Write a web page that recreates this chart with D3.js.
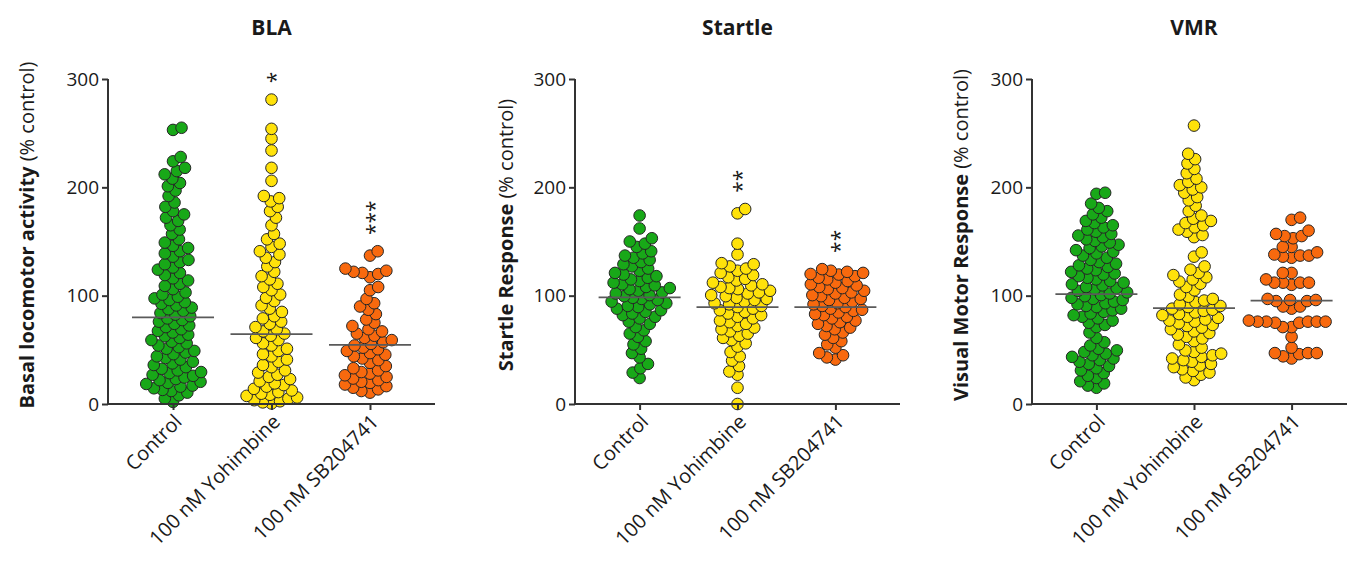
<!DOCTYPE html>
<html><head><meta charset="utf-8">
<script src="https://cdn.jsdelivr.net/npm/d3@7"></script>
<style>body{margin:0;background:#fff} text{font-family:'Open Sans',sans-serif;fill:#1a1a1a}</style>
</head><body><svg id="c" width="1347" height="562"></svg>
<script>
const categories = ["Control", "100 nM Yohimbine", "100 nM SB204741"];
const yTicks = [0, 100, 200, 300];
const panelTitles = ["BLA", "Startle", "VMR"];
const yLabelBold = ["Basal locomotor activity", "Startle Response", "Visual Motor Response"];
const yLabelNormal = " (% control)";

const blaControl = [2,5,8, 10.5,12,13,14.5,16,17,18.5,19.5, 20.5,22,23,24.5,26,27,28.5,29.5,
  31,32.5,34,36,37.5,39, 41,42.5,44,46,47.5,49, 51,52.5,54,56,57.5,59, 61,62.5,64,66,67.5,69,
  71,72.5,74,76,77.5,79, 81,82.5,84,86,87.5,89, 91,92.5,94,96,97.5,99,
  101,103,106,109, 111,114,116,119, 121,124,126,129, 131,133,136,139, 141,144,146,149,
  152,157, 161,165,169, 172,175,178, 182,186, 192,197, 201,204,208, 212,215,218, 224,228, 253,255];
const blaYohimbine = [0.5,1.5,2.5,3.5,5,6,7.5,8.5,9.5, 11,12.5,14,16,17.5,19, 21,23,25,27,29,
  31,34,36,39, 41,44,46,49, 51,54,56,59, 61,63,65,67,69, 71,74,76,79, 81,85,88, 91,95,98,
  101,105,108, 111,115,118, 122,127, 131,135,138, 141,145,148, 152,157,
  165,172,178,182,187,190,192, 206,218,234,245,254,281];
const blaSB = [10.5,12,13.5,15,16.5,18,19.5, 20.5,22,23.5,25,26.5,28,29.5, 31,33,35,38,
  40.5,42,44,45.5,47,49, 50.5,52,54,55.5,57,59, 61,63,65,67,69, 72,75,78,
  83,87, 90,93,97, 105,108, 117, 120,121,122,123,125, 137,141];

const startleControl = [24,29,33,37,43,47,51,55,58, 62,65,68, 71,74,76,79,
  80.5,82,83.5,85,86.5,88,89.5, 90.5,92,93,94.5,96,97,98,99.5,
  100.5,102,103,104.5,106,107,108,109.5, 110.5,112,113.5,115,116.5,118,119.5,
  121,123,125,127,129, 131,133,135,137,139, 141,145,148, 150,153,162,174];
const startleYohimbine = [0,15,27,30,35,40,44,48, 53,56,59, 61,63,65,67,69,
  70.5,72,74,75.5,77,79, 80.5,82,83.5,85,86.5,88,89.5, 90.5,92,93,94.5,96,97,98,99.5,
  100.5,102,103,104.5,106,107,108,109.5, 110.5,112,114,115.5,117,119,
  121,123,125,127,129, 130,138,148,176,180];
const startleSB = [41,43,45,47, 52,55,58, 61,64,66,69, 70.5,72,74,75.5,77,79,
  80.5,82,83,84.5,86,87,88,89.5, 90.5,92,93,94.5,96,97,98,99.5,
  100.5,102,103,104.5,106,107,108,109.5, 110.5,112,113.5,115,116.5,118,119.5,
  120,121,122,123,124.5];

const vmrControl = [15,17,19, 21,24,26,28.5, 31,33,35,37,39, 40.5,42,43.5,45,46.5,48,49.5,
  51,54,57, 61,66, 71,73,75,77,79, 80.5,82,83.5,85,86.5,88,89.5, 90.5,92,93,94.5,96,97,98,99.5,
  100.5,102,103,104.5,106,107,108,109.5, 110.5,112,113.5,115,116.5,118,119.5,
  120.5,122,123.5,125,126.5,128,129.5, 131,133,135,137,139, 140.5,142,144,145.5,147,149,
  150.5,152,154,155.5,157,159, 161,163,165,167,169, 172,175,178, 181,185,194,195];
const vmrYohimbine = [22,24.5,27,29, 30.5,32,34,35.5,37,39, 40.5,42,43.5,45,46.5,48,49.5,
  52,55,58, 60.5,62,64,65.5,67,69, 70.5,72,73,74.5,76,77,78,79.5, 80.5,82,83,84.5,86,87,88,89.5,
  90.5,92,94,95.5,97,99, 101,105,108, 111,113,115,117,119, 121,124,127, 136,140,
  154,156,159, 161,163,165,167,169, 171,174,178, 183,188, 191,195,198,
  200,202,205,208, 213,217, 222,226, 231, 257];
const vmrSB = [42,44,46,47,47,47,52, 62, 71,71,75,75,76,76,76,76,76,77, 88,90,90,95,95,96,96,97,
  110,112,112,112,112,115,121,121, 135,136,137,137,138,140, 145,145, 153,155,155,157,160, 170,172];

const blaMeans = [80, 64.5, 54.5];
const startleMeans = [98.5, 89.5, 89.5];
const vmrMeans = [101.5, 88.5, 95.5];
const blaStars = ["", "*", "***"];
const startleStars = ["", "**", "**"];
const vmrStars = ["", "", ""];

const panelsData = [
  {title: panelTitles[0], label: yLabelBold[0], groups: [blaControl, blaYohimbine, blaSB], means: blaMeans, stars: blaStars},
  {title: panelTitles[1], label: yLabelBold[1], groups: [startleControl, startleYohimbine, startleSB], means: startleMeans, stars: startleStars},
  {title: panelTitles[2], label: yLabelBold[2], groups: [vmrControl, vmrYohimbine, vmrSB], means: vmrMeans, stars: vmrStars}
];
const layout = [
  {left: 108, right: 435, labelX: 27},
  {left: 575, right: 900, labelX: 506},
  {left: 1032, right: 1356, labelX: 961}
];
const fills = ["#18a818", "#ffe20a", "#f8690e"];

const svg = d3.select("#c");
svg.append("rect").attr("width", 1347).attr("height", 562).attr("fill", "#fff");

const y = d3.scaleLinear().domain([0, 300]).range([404, 79]);
const R = 5.8, D = 8.8;

function swarm(values) {
  const pts = values.map(v => ({v, y: y(v)})).sort((a, b) => a.v - b.v);
  const placed = [];
  pts.forEach((p, i) => {
    const near = placed.filter(q => Math.abs(q.y - p.y) < D);
    const cand = [0];
    near.forEach(q => {
      const dx = Math.sqrt(D * D - (q.y - p.y) ** 2);
      cand.push(q.x + dx, q.x - dx);
    });
    const sgn = i % 2 ? 1 : -1;
    cand.sort((a, b) => Math.abs(a) - Math.abs(b) || sgn * (a - b));
    for (const c of cand) {
      if (near.every(q => (q.x - c) ** 2 + (q.y - p.y) ** 2 >= D * D - 1e-6)) { p.x = c; break; }
    }
    placed.push(p);
  });
  return placed;
}

panelsData.forEach((pd, pi) => {
  const L = layout[pi];
  const x = d3.scalePoint().domain(categories).range([L.left, L.right]).padding(0.66);
  const g = svg.append("g");

  pd.groups.forEach((vals, gi) => {
    const cx = x(categories[gi]);
    g.append("g").selectAll("circle").data(swarm(vals)).join("circle")
      .attr("cx", d => cx + d.x).attr("cy", d => d.y).attr("r", R)
      .attr("fill", fills[gi]).attr("stroke", "#262626").attr("stroke-width", 1);
  });
  pd.means.forEach((m, gi) => {
    const cx = x(categories[gi]);
    g.append("line").attr("x1", cx - 41).attr("x2", cx + 41)
      .attr("y1", y(m)).attr("y2", y(m)).attr("stroke", "#5a5a5a").attr("stroke-width", 1.7);
  });
  pd.stars.forEach((s, gi) => {
    if (!s.length) return;
    const cx = x(categories[gi]);
    const lowest = y(d3.max(pd.groups[gi])) - 22;
    const mid = lowest - (s.length - 1) * 11.5 / 2;
    g.append("text").attr("transform", `translate(${cx},${mid}) rotate(-90)`)
      .attr("text-anchor", "middle").attr("dy", "0.57em").attr("font-size", 21).text(s);
  });

  const ya = g.append("g").attr("transform", `translate(${L.left},0)`)
    .call(d3.axisLeft(y).tickValues(yTicks).tickSize(6).tickPadding(3).tickFormat(d3.format("d")));
  ya.select(".domain").attr("stroke", "#333").attr("stroke-width", 2).attr("d", `M0,${y(300)}V${y(0)}`);
  ya.selectAll(".tick line").attr("stroke", "#333").attr("stroke-width", 2);
  ya.selectAll(".tick text").attr("font-size", 19).attr("font-family", "'Open Sans',sans-serif").attr("fill", "#1a1a1a");

  const xa = g.append("g").attr("transform", `translate(0,${y(0)})`)
    .call(d3.axisBottom(x).tickSize(6).tickFormat(""));
  xa.select(".domain").attr("stroke", "#333").attr("stroke-width", 2).attr("d", `M${L.left},0H${Math.min(L.right, 1347)}`);
  xa.selectAll(".tick line").attr("stroke", "#333").attr("stroke-width", 2);
  categories.forEach(c => {
    g.append("text").attr("transform", `translate(${x(c) + 5},${y(0) + 14}) rotate(-45)`)
      .attr("text-anchor", "end").attr("dy", "0.35em").attr("font-size", 20).text(c);
  });

  g.append("text").attr("x", x(categories[1])).attr("y", 35).attr("text-anchor", "middle")
    .attr("font-size", 21).attr("font-weight", "bold").text(pd.title);

  const yl = g.append("text").attr("transform", `translate(${L.labelX},${235}) rotate(-90)`)
    .attr("text-anchor", "middle").attr("dy", "0.35em").attr("font-size", 20);
  yl.append("tspan").attr("font-weight", "bold").text(pd.label);
  yl.append("tspan").text(yLabelNormal);
});
</script></body></html>
